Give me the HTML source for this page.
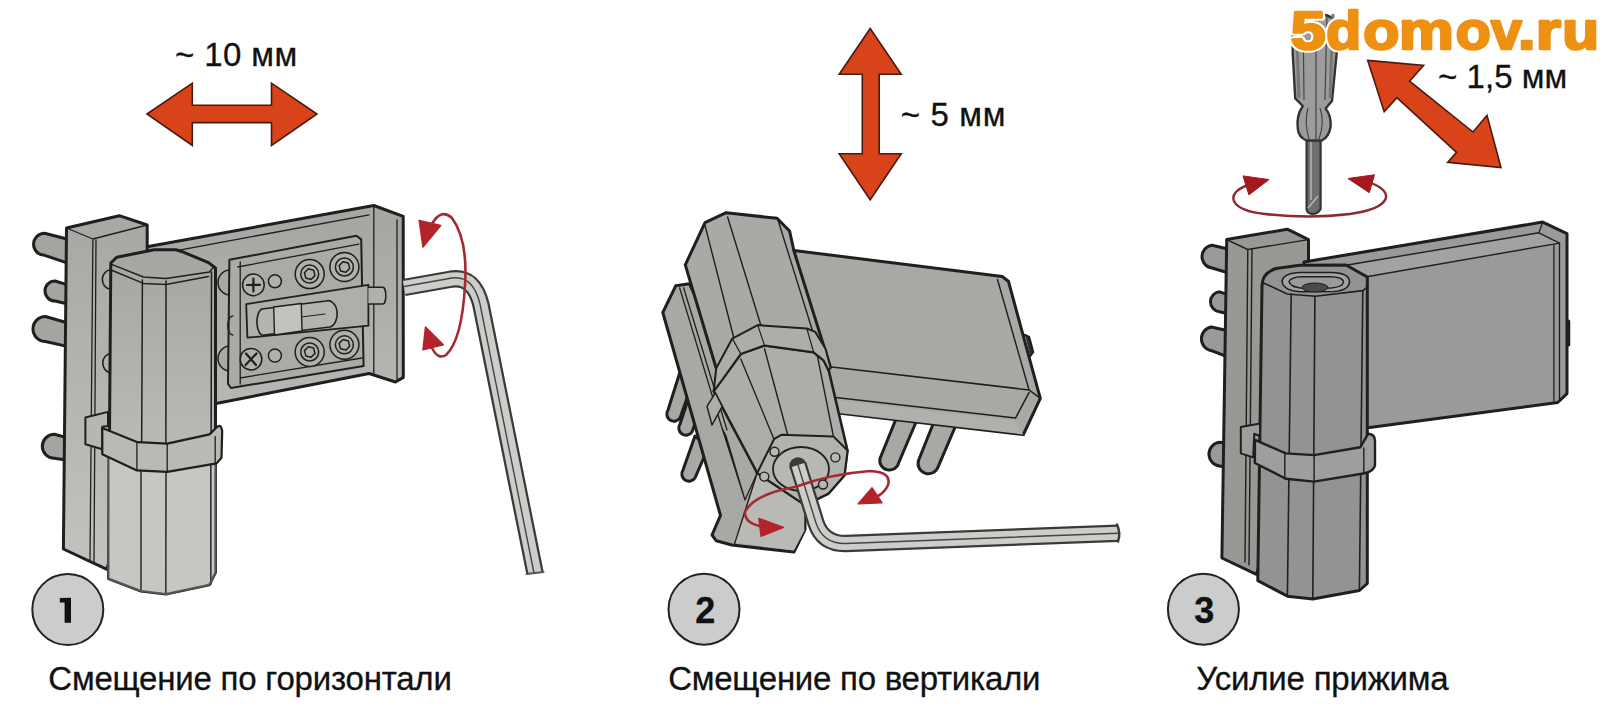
<!DOCTYPE html>
<html><head><meta charset="utf-8">
<style>
html,body{margin:0;padding:0;background:#fff;width:1603px;height:709px;overflow:hidden}
.t{position:absolute;font-family:"Liberation Sans",sans-serif;font-size:33px;color:#111;white-space:nowrap;line-height:1;-webkit-text-stroke:0.3px #111}
svg{position:absolute;left:0;top:0}
</style></head><body>
<svg width="1603" height="709" viewBox="0 0 1603 709">
<defs>
  <linearGradient id="g1back" gradientUnits="userSpaceOnUse" x1="0" y1="228" x2="0" y2="569"><stop offset="0" stop-color="#a8a8a5"/><stop offset="1" stop-color="#c2c2bf"/></linearGradient>
  <linearGradient id="g1barrel" gradientUnits="userSpaceOnUse" x1="0" y1="260" x2="0" y2="430"><stop offset="0" stop-color="#a6a6a2"/><stop offset="1" stop-color="#b8b8b5"/></linearGradient>
  <linearGradient id="g1wing" gradientUnits="userSpaceOnUse" x1="0" y1="220" x2="0" y2="400"><stop offset="0" stop-color="#a6a6a3"/><stop offset="1" stop-color="#b6b6b3"/></linearGradient>
</defs>
<g id="h1" stroke="#1f1f1f" stroke-linejoin="round" stroke-linecap="round">
  <!-- pins -->
  <g fill="#a4a4a1" stroke-width="3">
    <path d="M67,239 L44.6,233.3 A11,11 0 0 0 44.6,255.3 L67,262.8 Z"/>
    <path d="M67,284.6 L55,281 A10,10 0 0 0 55,301 L67,303.7 Z"/>
    <path d="M67,322.7 L45.5,316.5 A12.5,12.5 0 0 0 45.5,341.5 L67,346.4 Z"/>
    <path d="M66,437.4 L54.3,434.3 A12,12 0 0 0 54.3,458.3 L66,460 Z"/>
  </g>
  <!-- wing plate -->
  <path d="M140,248 L373.8,205.5 L403.2,216.4 L403.3,377.4 L395.5,382 L369.1,373.5 L214.7,403.8 L140,418 Z" fill="url(#g1wing)" stroke-width="3"/>
  <path d="M148,256 L369,214.8 M373.8,206 L373.8,373.5 M397,220 L397,380" fill="none" stroke-width="1.3"/>
  <!-- back plate -->
  <path d="M66.5,228 L119.3,215.7 L147.2,225 L147.2,420 L106.9,569.3 L63.4,549 Z" fill="url(#g1back)" stroke-width="3"/>
  <path d="M66.5,228 L92.9,239 L147.2,225 M92.9,239 L90,560 M96,240 L94,562" fill="none" stroke-width="1.3"/>
  <!-- screw insert plate -->
  <path d="M230,270 A12,12.5 0 0 0 230,295 Z M230,346 A12,12.5 0 0 0 230,371 Z" fill="#a8a8a4" stroke-width="1.5"/>
  <path d="M229.4,259.8 L356.4,235.8 L361.2,239.4 L363.6,366 L231,388 L228,384 Z" fill="#aaaaa6" stroke-width="2"/>
  <path d="M240.2,262 L240.2,384 M237.8,267 L358.8,244.2 M240,378 L362,358" fill="none" stroke-width="1.3"/>
  <path d="M233,316 A5,9 0 0 0 233,335" fill="none" stroke-width="1.3"/>
  <!-- slider bar -->
  <path d="M246.2,304.1 L368.4,284.9 L368.4,325.7 L247.4,337.7 Z" fill="#aeaeaa" stroke-width="1.8"/>
  <path d="M368.4,287.3 L382.8,287.3 A3,8.4 0 0 1 382.8,304.1 L368.4,304.1" fill="#b0b0ac" stroke-width="1.5"/>
  <path d="M262,309 L326,301 A9,13 0 0 1 330,327 L264,335 A6,13 0 0 1 262,309 Z" fill="#b4b4b0" stroke-width="1.6"/>
  <path d="M273.7,307 L301.3,303.5 L302,331 L274.5,335 Z" fill="#c2c2be" stroke-width="1.4"/>
  <path d="M301.3,317 L325,314" fill="none" stroke-width="1.1"/>
  <!-- screws -->
  <g fill="#b0b0ac" stroke-width="1.5">
    <circle cx="253.4" cy="284.9" r="10.8"/><circle cx="274.9" cy="281.3" r="6.5"/>
    <circle cx="251" cy="359.2" r="10.8"/><circle cx="274.9" cy="355.6" r="6.5"/>
    <circle cx="309.7" cy="274.1" r="14.5"/><circle cx="309.7" cy="274.1" r="9"/><path d="M315.0,275.5 L311.1,279.4 L305.8,278.0 L304.4,272.7 L308.3,268.8 L313.6,270.2 Z"/>
    <circle cx="344.4" cy="267" r="14.5"/><circle cx="344.4" cy="267" r="9"/><path d="M349.7,268.4 L345.8,272.3 L340.5,270.9 L339.1,265.6 L343.0,261.7 L348.3,263.1 Z"/>
    <circle cx="309.7" cy="352" r="14.5"/><circle cx="309.7" cy="352" r="9"/><path d="M315.0,353.4 L311.1,357.3 L305.8,355.9 L304.4,350.6 L308.3,346.7 L313.6,348.1 Z"/>
    <circle cx="344.4" cy="344.8" r="14.5"/><circle cx="344.4" cy="344.8" r="9"/><path d="M349.7,346.2 L345.8,350.1 L340.5,348.7 L339.1,343.4 L343.0,339.5 L348.3,340.9 Z"/>
  </g>
  <path d="M247,285 L260,284.8 M253.4,278.5 L253.4,291.5 M246,353.5 L256,365 M256.5,353.5 L245.5,365" stroke-width="2.2" fill="none"/>
  <!-- barrel -->
  <path d="M110.8,263 L116.7,257.2 L154.2,249.8 L176,249.8 L183.8,252.3 L208.5,262.6 L215.5,268 L215.5,572.4 L209.3,584.8 L165.8,594 L141,591 L108.4,578.6 L110.8,263 Z" fill="url(#g1barrel)" stroke-width="3"/>
  <path d="M112.3,264.6 L143.4,277 L166,278.4 L209.5,272 L213,267.6 M112.3,270.5 L143.4,283.4 L166,284.4 L208.5,276.5" fill="none" stroke-width="1.5"/>
  <path d="M142.4,280 L141,591 M166,281 L165.8,594 M211.5,272 L210.8,584" fill="none" stroke-width="1.5"/>
  <path d="M110.5,270 A8,9.5 0 0 0 110.2,289 M109.5,353.7 A8,9.5 0 0 0 109.3,372.4" fill="none" stroke-width="1.6"/>
  <!-- lower barrel lighter -->
  <path d="M108.4,453 L136.3,468.4 L167.4,471.5 L215.5,463.8 L215.5,572.4 L209.3,584.8 L165.8,594 L141,591 L108.4,578.6 Z" fill="#c6c6c3" stroke="none"/>
  <path d="M141,468 L141,591 M166,471 L165.8,594 M210.8,465 L210.8,584" fill="none" stroke-width="1.6" stroke="#333"/>
  <path d="M108.4,578.6 L141,591 L165.8,594 L209.3,584.8 L215.5,572.4 L215.5,463 M108.4,455 L108.4,578.6" fill="none" stroke-width="2.2" stroke="#555"/>
  <!-- collar -->
  <path d="M85.4,417.5 L108,411.9 L108,426 L102.3,426.7 L102.3,449.2 L85.4,444.3 Z" fill="#b6b6b2" stroke-width="2"/>
  <path d="M102.3,428 L137.6,442.2 L167.2,443.6 L209.5,434.4 L216,428 Q220.8,422.5 222.2,431 L221.5,457.7 L216.6,463.4 L167.2,471.8 L136.9,470.4 L102.3,454.2 Z" fill="#b9b9b5" stroke-width="2.2"/>
  <path d="M136.9,442 L136.9,470.4 M167.2,443.6 L167.2,471.8 M215.2,436.6 L215.2,463.4" fill="none" stroke-width="1.3"/>
  <!-- hex key -->
  <path d="M404,287.5 L452,279 Q474,276 481,305 L535,573" fill="none" stroke="#3a3a3a" stroke-width="17.5" stroke-linecap="butt"/>
  <path d="M404,287.5 L452,279 Q474,276 481,305 L535,573" fill="none" stroke="#cdcdca" stroke-width="13" stroke-linecap="butt"/>
  <path d="M404,286.5 L452,278 Q473,275 480,304 L534,573" fill="none" stroke="#444" stroke-width="1.4" stroke-linecap="butt"/>
  <path d="M526.5,574 L543.5,572" stroke="#555" stroke-width="2"/>
  <!-- rotation arrow -->
  <path d="M432,224 Q441,208 452,218 Q468,240 465,285 Q462,340 446,355 Q438,360 432,348" fill="none" stroke="#a32a33" stroke-width="2.6"/>
  <path d="M419.2,220.4 L440.7,225.4 L423,247 Z M423,349.7 L443.3,344.7 L425.5,327 Z" fill="#b3232a" stroke="#b3232a" stroke-width="1.5"/>
</g>


<g id="h2" stroke="#1f1f1f" stroke-linejoin="round" stroke-linecap="round">
  <!-- left pins -->
  <g fill="#a8a8a4" stroke-width="3">
    <path d="M680,372 L668,410 A7,7 0 0 0 680,418 L692,384 Z"/>
    <path d="M688,400 L680,424 A7,7 0 0 0 692,432 L700,410 Z"/>
    <path d="M695,436 L683,470 A7,7 0 0 0 695,478 L708,448 Z"/>
  </g>
  <!-- pins under wing -->
  <g fill="#a8a8a4" stroke-width="3">
    <path d="M896.8,417 L880,458.5 A9.5,9.5 0 0 0 898.8,462.5 L916.5,421 Z"/>
    <path d="M934.3,421 L918.5,460.5 A9.5,9.5 0 0 0 938.3,466.4 L956,425 Z"/>
  </g>
  <!-- wing -->
  <path d="M790,250 L1002.2,276.5 L1008.4,281.2 L1040.3,398.4 L1023.4,434.5 L838.5,413 L800,400 Z" fill="#a8a8a4" stroke-width="3"/>
  <path d="M829.6,366.7 L1029,389.9 L1040.3,398.4 M997.5,279.6 L1029,389.9 M833.6,397.3 L1015.5,418.1 L1029,392.7" fill="none" stroke-width="1.5"/>
  <path d="M835,400 L1015,420.5 L1023.4,434.5 L838.5,413 Z" fill="#b0b0ac" stroke="none"/>
  <path d="M1025,335 L1029,337 L1033,352 L1030,356" fill="#333" stroke-width="2.5"/>
  <!-- back plate -->
  <path d="M662.8,312.5 L675.7,285.8 L689.5,283.8 L730,372 L757.2,473 L805,505 L805,529.5 L793.9,552 L731.8,545 L716.3,540.8 L712,535 L720.5,515.4 Z" fill="#a8a8a4" stroke-width="3"/>
  <path d="M679.6,287.8 L722,428 L745,500 L757.2,473 M683.6,287.8 L727,430 M722,428 L726,436 L745,500" fill="none" stroke-width="1.3"/>
  <path d="M757.2,473 L805,505 L805,529.5 L793.9,550.5 L734.6,542.6 Z" fill="#b9b9b5" stroke="none"/>
  <path d="M757.2,473 L734.6,543.6 M805,505 L805,529.5" fill="none" stroke-width="1.4"/>
  <!-- barrel upper -->
  <path d="M685.3,264.9 L705,222.6 L726.2,212.7 L777,218.3 L789.6,231 L793.9,250.8 L830.5,367.4 L757,340 L716.2,368.3 Z" fill="#a9a9a5" stroke-width="3"/>
  <path d="M705,225.4 L734.6,341 M727.6,217 L761.4,327 M778.3,221 L812.2,329.8" fill="none" stroke-width="1.4"/>
  <!-- barrel lower -->
  <path d="M713.7,391.1 L740.8,353.9 L764.5,345.4 L813.6,352.2 L823.8,360.6 L828.8,370.8 L847.5,450.5 L844.4,475.4 L828.6,493.5 L805,505 L757.2,473 Z" fill="#adada9" stroke-width="2.6"/>
  <path d="M740.8,359 L774,439.2 M764.5,348.8 L788,436 M817,353.9 L833.4,436.4" fill="none" stroke-width="1.4"/>
  <path d="M707,406.4 L715.4,392.8 L722.2,406.4 L712,425 Z" fill="#adada9" stroke-width="1.5"/>
  <!-- collar -->
  <path d="M716.2,368.3 L732.3,338.6 L757.7,325.1 L806.8,328.5 L815.3,331.9 L825.5,348.8 L830.5,367.4 L828.8,370.8 L823.8,360.6 L813.6,352.2 L764.5,345.4 L740.8,353.9 L722,380 L713.7,391.1 Z" fill="#adada9" stroke-width="2"/>
  <path d="M757.7,325.1 L764.5,345.4 M806.8,328.5 L813.6,352.2 M732.3,338.6 L740.8,353.9" fill="none" stroke-width="1.2"/>
  <!-- end face -->
  <path d="M757.2,473 L774,439.2 L781.2,434.8 L833.4,436.4 L847.5,450.5 L844.4,475.4 L828.6,493.5 L805,505 Z" fill="#b2b2ae" stroke-width="2"/>
  <ellipse cx="801" cy="469" rx="28" ry="22" fill="#b8b8b4" stroke-width="1.8"/>
  <circle cx="774.5" cy="451.7" r="4.5" fill="#b8b8b4" stroke-width="1.4"/>
  <circle cx="835.4" cy="457.4" r="4.5" fill="#b8b8b4" stroke-width="1.4"/>
  <circle cx="764.3" cy="476.6" r="4.5" fill="#b8b8b4" stroke-width="1.4"/>
  <circle cx="823" cy="484.5" r="4.5" fill="#b8b8b4" stroke-width="1.4"/>
  <!-- hex key -->
  <path d="M798,465 L816,523 Q823,544 846,543.5 L1118,533.2" fill="none" stroke="#3a3a3a" stroke-width="17.5" stroke-linecap="butt"/>
  <circle cx="798" cy="466" r="8.7" fill="#3a3a3a" stroke="none"/>
  <path d="M798,465 L816,523 Q823,544 846,543.5 L1118,533.2" fill="none" stroke="#cdcdca" stroke-width="13" stroke-linecap="butt"/>
  <path d="M798,465 L816,523 Q823,544 846,543.5 L1118,533.2" fill="none" stroke="#444" stroke-width="1.4" stroke-linecap="butt"/>
  <path d="M1117,524.5 Q1121,533 1118,541.5" fill="none" stroke="#3a3a3a" stroke-width="2.5"/>
  <!-- red rotation arrow -->
  <path d="M765,527 Q744,524 745,511.6 Q755,494 795,487 Q830,474 870,471 Q892,472 888,485 Q885,492 878,496" fill="none" stroke="#a32a33" stroke-width="2.6"/>
  <path d="M858,504 L872,487.6 L882.2,502.8 Z M783.5,527.4 L758.7,518.3 L761,536.4 Z" fill="#b3232a" stroke="#b3232a" stroke-width="1.2"/>
</g>

<g id="h3" stroke="#1f1f1f" stroke-linejoin="round" stroke-linecap="round">
  <g fill="#9a9a9a" stroke-width="3">
    <path d="M1228,249 L1212,245.2 A11.5,11.5 0 0 0 1212,268 L1228,272.8 Z"/>
    <path d="M1228,294.6 L1219.5,291.8 A10,10 0 0 0 1219.5,311.7 L1228,313.7 Z"/>
    <path d="M1228,330.8 L1211.5,327 A12,12 0 0 0 1211.5,350.7 L1228,357 Z"/>
    <path d="M1226,443 L1219.4,442.2 A12,12 0 0 0 1219.4,466 L1226,467 Z"/>
  </g>
  <path d="M1226.7,239.6 L1287.3,229.2 L1308.5,239.6 L1308.5,430 L1256.4,574.3 L1221.9,558 Z" fill="#989894" stroke-width="3"/>
  <path d="M1226.7,239.6 L1247.8,249.5 L1308.5,239.6 M1247.8,249.5 L1245,562 M1252,250 L1249,565" fill="none" stroke-width="1.4"/>
  <path d="M1304,262 L1542.7,222.1 L1567,233.7 L1567,393.6 L1557.7,402.5 L1365.9,428 L1304,432 Z" fill="#9a9a9a" stroke-width="3"/>
  <path d="M1346.1,265.2 L1538.9,232.8 L1559.5,243.1 L1366.7,276.8 Z" fill="#a2a2a1" stroke-width="1.4"/>
  <path d="M1559.5,243.1 L1559.5,400 M1553.9,245 L1553.9,401 M1542.7,222.1 L1538.9,232.8" fill="none" stroke-width="1.3"/>
  <path d="M1567,320 L1569,321 L1569,345 L1567,346" fill="none" stroke-width="2.5"/>
  <!-- barrel -->
  <path d="M1262,286 Q1262,273 1276,268.5 L1299.6,265.3 L1346,265 L1367.3,277 L1367.3,583.5 L1359.4,590.5 L1312.8,599 L1287.4,596.2 L1257.8,580.6 Z" fill="#929493" stroke-width="3"/>
  <path d="M1263,282.7 L1287.2,294 L1315.4,296.3 L1362.8,290.6 L1367.3,287.2" fill="none" stroke-width="1.6"/>
  <path d="M1291.2,294 L1287.4,596 M1314.9,296.3 L1312.8,599 M1362.8,290.6 L1359.4,590" fill="none" stroke-width="1.6"/>
  <path d="M1282,281 Q1284,273 1300,272.5 L1332,272.5 Q1349,273 1349.5,281.5 Q1349,290.5 1334,291.5 L1300,291.7 Q1283,290.5 1282,281 Z" fill="#a3a4a3" stroke-width="1.6"/>
  <path d="M1289,281.5 Q1291,277 1302,276.8 L1330,276.8 Q1343,277 1343.5,282 Q1343,287 1331,288 L1302,288.2 Q1290,287 1289,281.5 Z" fill="#9a9b9a" stroke-width="1.4"/>
  <ellipse cx="1315" cy="287.5" rx="13" ry="4.5" fill="#4a4a4a" stroke-width="1"/>
  <!-- collar -->
  <path d="M1240.8,426.9 L1260,423.5 L1260,436 L1254.3,433.7 L1253.2,457.4 L1240.8,453.4 Z" fill="#9e9e9c" stroke-width="2"/>
  <path d="M1254.9,439.9 L1285.9,453.4 L1314.1,455.1 L1360.4,447.2 L1368.3,433.7 Q1375,434 1375,441 L1375,465.3 Q1374,471 1364.9,473.2 L1314.1,481.6 L1285.9,478.8 L1254.9,463 Z" fill="#9e9e9c" stroke-width="2.4"/>
  <path d="M1284.8,453 L1284.8,478.8 M1314.1,455.1 L1314.1,481.6 M1363.8,448 L1363.8,473" fill="none" stroke-width="1.4"/>
</g>
<g id="sd" stroke="#333" stroke-linejoin="round">
  <path d="M1306.6,139 L1320.6,139 L1320.6,209 Q1318,214 1312,214 Q1306.6,213 1306.6,209 Z" fill="#6e6e6e" stroke-width="2.2"/>
  <path d="M1311,142 L1311,200 M1308,208 L1318,196" stroke="#b8b8b8" stroke-width="1.5"/>
  <path d="M1292.7,28 Q1293,14 1314,13 Q1336,14 1337,28 L1337,50 L1332,101 L1325.6,108.5 Q1331,115 1330.7,126.2 Q1329,137 1321.8,140.5 L1306.6,140.5 Q1298.5,137 1297.8,128.8 Q1296,116 1302.8,106 L1295.2,98.3 L1292.7,52.7 Z" fill="#9c9c9c" stroke-width="2.4"/>
  <path d="M1303,14 L1304,100 M1316,12 L1316,140 M1327,14 L1325,100 M1308,108 Q1304,122 1309,139 M1320,108 Q1325,122 1319,139" fill="none" stroke-width="1.2" stroke="#444"/>
  <path d="M1296,14 L1299,98 M1333,14 L1330,98" fill="none" stroke-width="3" stroke="#777"/>
  <path d="M1248,185 C1225,193 1228,210 1265,214 Q1310,219 1350,214 C1392,208 1395,192 1371,183" fill="none" stroke="#8e2832" stroke-width="2.4"/>
  <path d="M1243,175.9 L1269,179.6 L1248.9,194.9 Z M1374.5,174.8 L1348,178.5 L1369.3,192.7 Z" fill="#a5181e" stroke="#a5181e" stroke-width="1"/>
</g>
<!-- Big red arrows -->
<g fill="#d9431a" stroke="#4a1a0e" stroke-width="1.6" stroke-linejoin="miter">
  <path d="M147,114 L192.3,83.2 L192.3,105.2 L271.5,105.2 L271.5,83.2 L317,114 L271.5,145.5 L271.5,122.6 L192.3,122.6 L192.3,145.5 Z"/>
  <path d="M870.2,28.5 L901.2,74.2 L879.2,74.2 L879.2,153.8 L901.2,153.8 L870.2,199.8 L839.2,153.8 L862.3,153.8 L862.3,74.2 L839.2,74.2 Z"/>
  <path d="M1367.7,60.4 L1423.6,65.5 L1409.6,81.2 L1473,132 L1487,115.5 L1501,167.5 L1447.7,162.4 L1456.5,152.3 L1396.9,97.7 L1384.2,111.7 Z"/>
</g>

<!-- circles -->
<g fill="#cccccc" stroke="#222" stroke-width="2">
  <circle cx="67.8" cy="609.5" r="35.5"/>
  <circle cx="704" cy="609.2" r="35.5"/>
  <circle cx="1203.4" cy="609.2" r="35.5"/>
</g>
<path d="M59.8,598 L71,597.8 L71,622.7 L64.6,622.7 L64.6,602.4 L59.8,602.4 Z" fill="#111"/>
<g font-family="Liberation Sans" font-weight="bold" font-size="54" stroke-linejoin="round">
<g fill="#fff" stroke="#fff" stroke-width="6.5"><text transform="translate(1290.8,48.6) scale(1.16,1)">5</text>
<text transform="translate(1326.3,48.6) scale(1.058,1)">d</text>
<text transform="translate(1363.3,48.6) scale(1.096,1)">o</text>
<text transform="translate(1399.0,48.6) scale(1.141,1)">m</text>
<text transform="translate(1455.7,48.6) scale(1.06,1)">o</text>
<text transform="translate(1491.0,48.6) scale(1.023,1)">v</text>
<text transform="translate(1517.9,48.6) scale(1.165,1)">.</text>
<text transform="translate(1535.7,48.6) scale(1.197,1)">r</text>
<text transform="translate(1562.2,48.6) scale(1.114,1)">u</text></g>
<g fill="#ee9012" stroke="#ee9012" stroke-width="2.6"><text transform="translate(1290.8,48.6) scale(1.16,1)">5</text>
<text transform="translate(1326.3,48.6) scale(1.058,1)">d</text>
<text transform="translate(1363.3,48.6) scale(1.096,1)">o</text>
<text transform="translate(1399.0,48.6) scale(1.141,1)">m</text>
<text transform="translate(1455.7,48.6) scale(1.06,1)">o</text>
<text transform="translate(1491.0,48.6) scale(1.023,1)">v</text>
<text transform="translate(1517.9,48.6) scale(1.165,1)">.</text>
<text transform="translate(1535.7,48.6) scale(1.197,1)">r</text>
<text transform="translate(1562.2,48.6) scale(1.114,1)">u</text></g>
</g>
</svg>

<div class="t" style="left:174.9px;top:37.7px;letter-spacing:0.43px">~ 10 мм</div>
<div class="t" style="left:900.7px;top:97.8px;letter-spacing:0.66px">~ 5 мм</div>
<div class="t" style="left:1438px;top:59.6px;letter-spacing:0.06px">~ 1,5 мм</div>
<div class="t" style="left:48.3px;top:661.8px;letter-spacing:-0.21px">Смещение по горизонтали</div>
<div class="t" style="left:668.2px;top:661.8px;letter-spacing:-0.26px">Смещение по вертикали</div>
<div class="t" style="left:1196.2px;top:661.8px;letter-spacing:-0.2px">Усилие прижима</div>
<div class="t" style="left:695.2px;top:593px;font-weight:bold;font-size:36px">2</div>
<div class="t" style="left:1194.2px;top:592.5px;font-weight:bold;font-size:36px">3</div>
</body></html>
